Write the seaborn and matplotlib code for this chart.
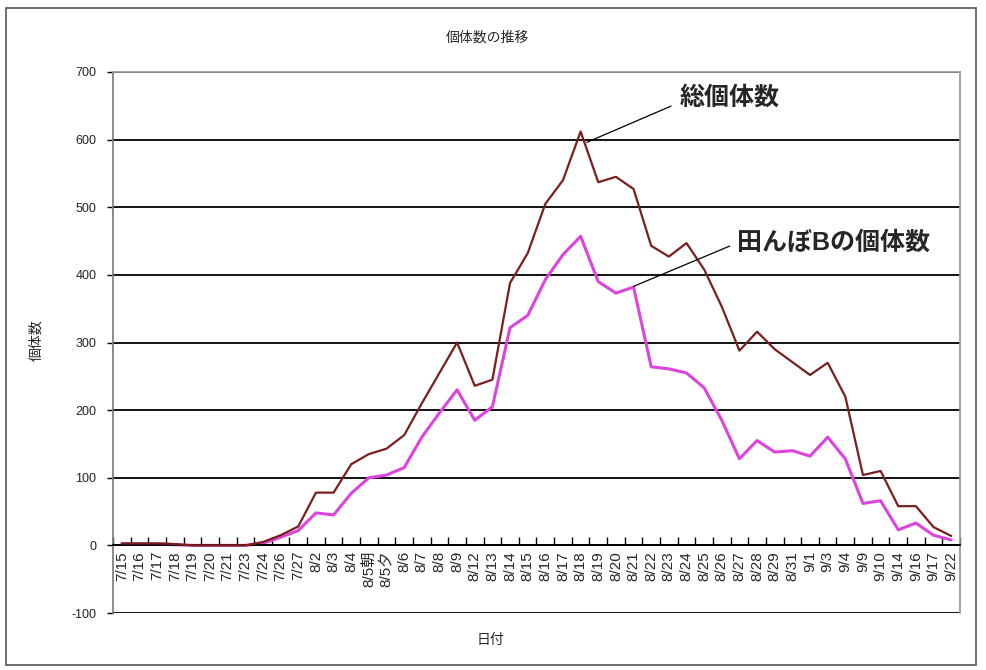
import matplotlib
matplotlib.use("Agg")
import matplotlib.pyplot as plt
from matplotlib.patches import Rectangle
from matplotlib.ticker import FixedLocator
import seaborn as sns
import pandas as pd
import numpy as np

dates = ["7/15", "7/16", "7/17", "7/18", "7/19", "7/20", "7/21", "7/23", "7/24", "7/26",
         "7/27", "8/2", "8/3", "8/4", "8/5朝", "8/5夕", "8/6", "8/7", "8/8", "8/9",
         "8/12", "8/13", "8/14", "8/15", "8/16", "8/17", "8/18", "8/19", "8/20", "8/21",
         "8/22", "8/23", "8/24", "8/25", "8/26", "8/27", "8/28", "8/29", "8/31", "9/1",
         "9/3", "9/4", "9/9", "9/10", "9/14", "9/16", "9/17", "9/22"]
total = [3, 3, 3, 2, 0, 0, 0, 0, 5, 15,
         28, 78, 78, 120, 135, 143, 163, 210, 255, 300,
         236, 245, 388, 432, 505, 540, 612, 537, 545, 527,
         443, 427, 447, 408, 353, 288, 316, 290, 271, 252,
         270, 220, 104, 110, 58, 58, 27, 14]
field_b = [2, 2, 2, 1, 0, 0, 0, 0, 3, 12,
           22, 48, 45, 77, 100, 104, 115, 160, 196, 230,
           185, 205, 322, 340, 393, 430, 457, 390, 373, 382,
           264, 261, 255, 233, 185, 128, 155, 138, 140, 132,
           160, 128, 62, 66, 23, 33, 15, 8]
y_ticks = [-100, 0, 100, 200, 300, 400, 500, 600, 700]

title = "個体数の推移"
x_label = "日付"
y_label = "個体数"
label_total = "総個体数"
label_b = "田んぼBの個体数"

sns.set_theme(style="white")
plt.rcParams["font.family"] = ["Liberation Sans", "Noto Sans CJK JP", "DejaVu Sans"]

df = pd.DataFrame({"idx": np.arange(len(dates)), "date": dates,
                   "total": total, "field_b": field_b})

fig = plt.figure(figsize=(9.87, 6.70), dpi=100)
ax = fig.add_axes([113 / 987, 1 - 613 / 670, (960 - 113) / 987, (613 - 72) / 670])

# outer chart border
fig.patches.append(Rectangle((6 / 987, 1 - 665 / 670), (976 - 6) / 987, (665 - 8) / 670,
                             transform=fig.transFigure, fill=False,
                             edgecolor="#555555", linewidth=1.2))

for yv in y_ticks:
    ax.axhline(yv, color="black", linewidth=1.3, zorder=1)

sns.lineplot(data=df, x="idx", y="total", ax=ax, color="#7a1f1f", linewidth=1.6, zorder=3)
sns.lineplot(data=df, x="idx", y="field_b", ax=ax, color="#dd44dd", linewidth=2.2, zorder=2)

ax.set_xlim(-0.5, len(dates) - 0.5)
ax.set_ylim(-100, 700)
ax.set_yticks(y_ticks)
ax.set_yticklabels([str(v) for v in y_ticks], fontsize=9, color="#222222")

ax.set_xticks(df["idx"])
ax.set_xticklabels(dates, fontsize=9, color="#222222")
ax.xaxis.set_minor_locator(FixedLocator(np.arange(len(dates) + 1) - 0.5))
ax.tick_params(axis="x", which="major", length=0, pad=4, labelrotation=90, bottom=True)
ax.tick_params(axis="x", which="minor", length=6, direction="in", width=1, color="black",
               bottom=True)
ax.tick_params(axis="y", which="major", length=4, direction="out", width=1, color="black",
               left=True, pad=8)
for lbl in ax.get_xticklabels():
    lbl.set_rotation(90)
    lbl.set_va("top")
    lbl.set_ha("center")

ax.spines["bottom"].set_position(("data", 0))
ax.spines["bottom"].set_color("black")
ax.spines["bottom"].set_linewidth(1.3)
ax.spines["left"].set_color("#777777")
ax.spines["right"].set_color("#999999")
ax.spines["top"].set_color("#999999")
ax.spines["left"].set_linewidth(1.2)

ax.set_xlabel("")
ax.set_ylabel("")
fig.text(487 / 987, 1 - 38 / 670, title, ha="center", va="center", fontsize=10)
fig.text(490 / 987, 1 - 640 / 670, x_label, ha="center", va="center", fontsize=10)
fig.text(36 / 987, 1 - 340 / 670, y_label, ha="center", va="center", fontsize=10, rotation=90)

ax.annotate(label_total, xy=(26.35, 596), xytext=(31.6, 662), textcoords="data",
            ha="left", va="center", fontsize=18, fontweight="bold",
            arrowprops=dict(arrowstyle="-", color="black", lw=0.9,
                            shrinkA=4, shrinkB=0, relpos=(0, 0.3)))
ax.annotate(label_b, xy=(29.0, 383), xytext=(34.85, 447), textcoords="data",
            ha="left", va="center", fontsize=18, fontweight="bold",
            arrowprops=dict(arrowstyle="-", color="black", lw=0.9,
                            shrinkA=3, shrinkB=0, relpos=(0, 0.5)))

fig.savefig("out.png", dpi=100, facecolor="white")
